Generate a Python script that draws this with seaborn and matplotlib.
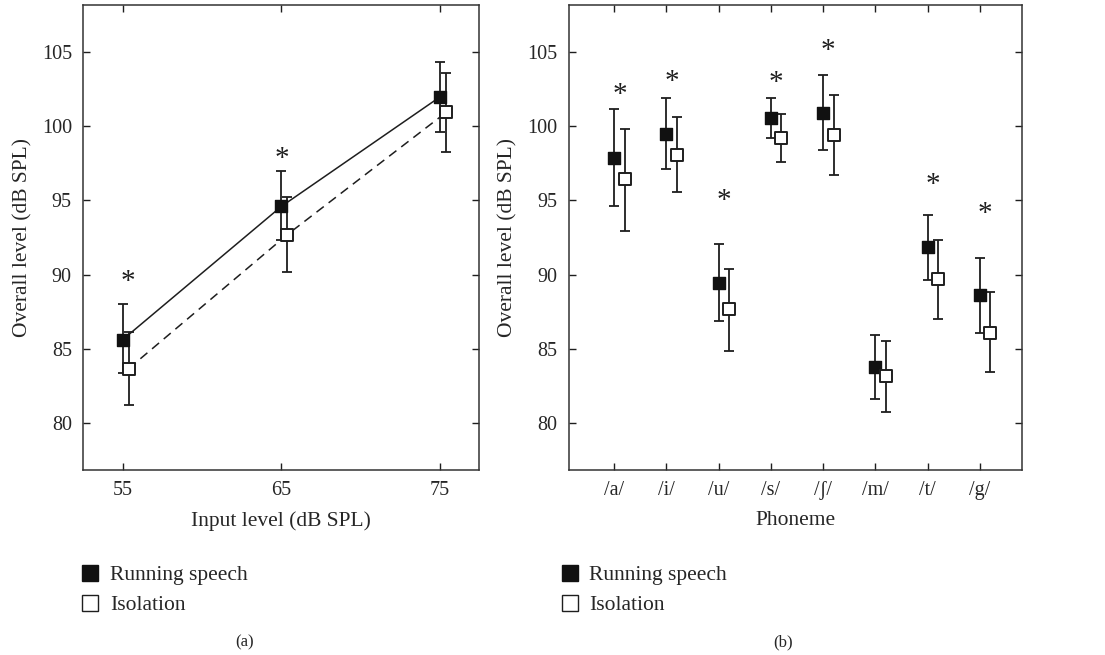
import numpy as np
import pandas as pd
import matplotlib.pyplot as plt
import seaborn as sns
from matplotlib.lines import Line2D

# panel (a): level vs input level
input_levels = [55, 65, 75]
run_a = [85.6, 94.6, 102.0]
run_a_lo = [83.35, 92.3, 99.6]
run_a_hi = [88.0, 97.0, 104.35]
iso_a = [83.65, 92.7, 100.95]
iso_a_lo = [81.2, 90.15, 98.3]
iso_a_hi = [86.1, 95.25, 103.6]
star_a_x = [55.3, 65.0]
star_a_y = [89.8, 98.1]

# panel (b): level per phoneme
phonemes = ["/a/", "/i/", "/u/", "/s/", "/ʃ/", "/m/", "/t/", "/g/"]
run_b = [97.85, 99.5, 89.45, 100.55, 100.9, 83.75, 91.85, 88.6]
run_b_lo = [94.65, 97.15, 86.85, 99.2, 98.4, 81.6, 89.65, 86.05]
run_b_hi = [101.15, 101.9, 92.05, 101.9, 103.45, 85.9, 94.05, 91.1]
iso_b = [96.45, 98.05, 87.65, 99.2, 99.4, 83.15, 89.7, 86.05]
iso_b_lo = [92.95, 95.55, 84.85, 97.6, 96.7, 80.7, 87.0, 83.4]
iso_b_hi = [99.85, 100.65, 90.4, 100.85, 102.1, 85.5, 92.35, 88.8]
star_b = [102.45, 103.35, 95.3, 103.25, 105.45, np.nan, 96.35, 94.4]

sns.set_style("ticks")
plt.rcParams["font.family"] = ["Liberation Serif", "DejaVu Serif"]

INK = "#1e1e1e"
MS = 82  # marker area for scatterplot


def draw_points(ax, x_run, x_iso, y_run, lo_run, hi_run, y_iso, lo_iso, hi_iso):
    y_run = np.array(y_run); y_iso = np.array(y_iso)
    ax.errorbar(x_run, y_run, yerr=[y_run - np.array(lo_run), np.array(hi_run) - y_run],
                fmt="none", ecolor=INK, elinewidth=1.3, capsize=3.5, capthick=1.3, zorder=2)
    ax.errorbar(x_iso, y_iso, yerr=[y_iso - np.array(lo_iso), np.array(hi_iso) - y_iso],
                fmt="none", ecolor=INK, elinewidth=1.3, capsize=3.5, capthick=1.3, zorder=2)
    sns.scatterplot(x=x_run, y=y_run, ax=ax, marker="s", s=MS, color="#111111",
                    edgecolor="#111111", linewidth=1.0, zorder=4, legend=False)
    sns.scatterplot(x=x_iso, y=y_iso, ax=ax, marker="s", s=MS * 0.85, color="white",
                    edgecolor=INK, linewidth=1.4, zorder=4, legend=False)


def add_star(ax, x, y):
    ax.annotate("*", (x, y), xytext=(0, -3.5), textcoords="offset points",
                ha="center", va="center", fontsize=21, color=INK)


def style_axes(ax):
    ax.set_ylim(76.8, 108.2)
    ax.set_yticks([80, 85, 90, 95, 100, 105])
    ax.tick_params(direction="in", top=True, right=True, length=5, width=1.0,
                   color=INK, labelsize=14.5, pad=8)
    for s in ax.spines.values():
        s.set_visible(True)
        s.set_color("#333333")
        s.set_linewidth(1.1)
    ax.set_ylabel("Overall level (dB SPL)", fontsize=15.5, labelpad=7)


fig = plt.figure(figsize=(11.05, 6.55), dpi=100)
ax1 = fig.add_axes([0.0751, 0.2824, 0.3584, 0.71])
ax2 = fig.add_axes([0.5147, 0.2824, 0.4099, 0.71])

# ---- panel (a)
xa = np.array(input_levels, dtype=float)
xa_iso = xa + 0.38
sns.lineplot(x=xa, y=run_a, ax=ax1, color=INK, linewidth=1.1, zorder=3)
sns.lineplot(x=xa_iso, y=iso_a, ax=ax1, color=INK, linewidth=1.1, zorder=3)
ax1.lines[1].set_dashes([6, 4])
draw_points(ax1, xa, xa_iso, run_a, run_a_lo, run_a_hi, iso_a, iso_a_lo, iso_a_hi)
for sx, sy in zip(star_a_x, star_a_y):
    add_star(ax1, sx, sy)
ax1.set_xlim(52.5, 77.45)
ax1.set_xticks(input_levels)
style_axes(ax1)
ax1.set_xlabel("Input level (dB SPL)", fontsize=15.5, labelpad=8)

# ---- panel (b)
xb = np.arange(1, len(phonemes) + 1, dtype=float)
xb_iso = xb + 0.2
draw_points(ax2, xb, xb_iso, run_b, run_b_lo, run_b_hi, iso_b, iso_b_lo, iso_b_hi)
for sx, sy in zip(xb + 0.1, star_b):
    if not np.isnan(sy):
        add_star(ax2, sx, sy)
ax2.set_xlim(0.13, 8.8)
ax2.set_xticks(xb)
ax2.set_xticklabels(phonemes)
style_axes(ax2)
ax2.set_xlabel("Phoneme", fontsize=15.5, labelpad=8)

# ---- legends and captions
handles = [
    Line2D([], [], marker="s", ls="none", markersize=11, mfc="#111111", mec="#111111"),
    Line2D([], [], marker="s", ls="none", markersize=11, mfc="white", mec=INK, mew=1.0),
]
labels = ["Running speech", "Isolation"]
for xpos in (0.074, 0.508):
    fig.legend(handles, labels, loc="upper left", bbox_to_anchor=(xpos, 0.137),
               frameon=False, fontsize=15.5, handlelength=0.8, handletextpad=0.5,
               labelspacing=0.45, borderaxespad=0, borderpad=0)

fig.text(245 / 1105, 1 - 642 / 655, "(a)", ha="center", va="center", fontsize=12)
fig.text(783 / 1105, 1 - 642 / 655, "(b)", ha="center", va="center", fontsize=12)

fig.savefig("out.png", dpi=100)
